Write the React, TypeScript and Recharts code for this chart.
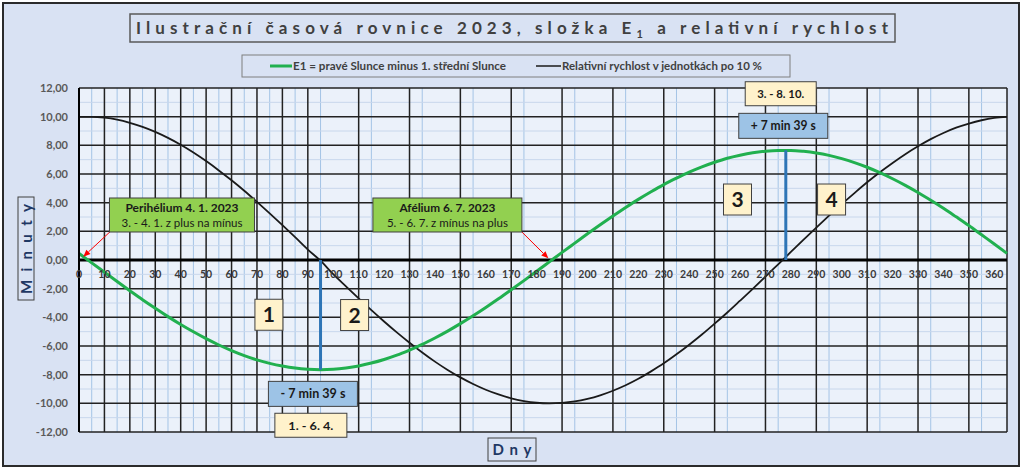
import React from "react";
import {
  LineChart,
  Line,
  XAxis,
  YAxis,
  CartesianGrid,
  ReferenceLine,
  ReferenceDot,
} from "recharts";

// days of the year 2023
const days = [
  0, 5, 10, 15, 20, 25, 30, 35, 40, 45, 50, 55, 60, 65, 70, 75, 80, 85, 90, 95,
  100, 105, 110, 115, 120, 125, 130, 135, 140, 145, 150, 155, 160, 165, 170, 175, 180, 185, 190, 195,
  200, 205, 210, 215, 220, 225, 230, 235, 240, 245, 250, 255, 260, 265, 270, 275, 280, 285, 290, 295,
  300, 305, 310, 315, 320, 325, 330, 335, 340, 345, 350, 355, 360, 365,
];

// E1 = pravé Slunce minus 1. střední Slunce (minuty)
const e1 = [
  0.46, -0.2, -0.85, -1.5, -2.14, -2.77, -3.37, -3.95, -4.5, -5.01, -5.49, -5.93, -6.32, -6.67, -6.97, -7.21, -7.4, -7.54, -7.62, -7.65,
  -7.62, -7.53, -7.39, -7.19, -6.94, -6.64, -6.28, -5.89, -5.44, -4.96, -4.44, -3.89, -3.31, -2.71, -2.08, -1.44, -0.79, -0.13, 0.53, 1.18,
  1.83, 2.46, 3.07, 3.66, 4.23, 4.76, 5.26, 5.71, 6.13, 6.5, 6.82, 7.1, 7.31, 7.48, 7.59, 7.64, 7.64, 7.58, 7.47, 7.3,
  7.07, 6.79, 6.47, 6.09, 5.67, 5.21, 4.71, 4.17, 3.61, 3.01, 2.4, 1.76, 1.12, 0.46,
];

// relativní rychlost v jednotkách po 10 %
const rychlost = [
  9.99, 9.99, 9.93, 9.79, 9.57, 9.29, 8.94, 8.52, 8.04, 7.5, 6.9, 6.25, 5.56, 4.83, 4.05, 3.25, 2.43, 1.59, 0.73, -0.05,
  -0.99, -1.84, -2.68, -3.5, -4.29, -5.05, -5.77, -6.45, -7.09, -7.67, -8.19, -8.65, -9.05, -9.38, -9.65, -9.84, -9.96, -10.0, -9.97, -9.87,
  -9.69, -9.44, -9.12, -8.74, -8.29, -7.77, -7.21, -6.58, -5.91, -5.2, -4.44, -3.66, -2.84, -2.01, -1.16, -0.3, 0.56, 1.42, 2.26, 3.09,
  3.9, 4.67, 5.42, 6.12, 6.77, 7.38, 7.93, 8.43, 8.86, 9.23, 9.52, 9.75, 9.91, 9.99,
];

// extremes of E1 (day, minutes)
const extremeDays = [95, 278];
const extremeValues = [-7.65, 7.65];

const xLabels = [
  0, 10, 20, 30, 40, 50, 60, 70, 80, 90, 100, 110, 120, 130, 140, 150, 160, 170, 180,
  190, 200, 210, 220, 230, 240, 250, 260, 270, 280, 290, 300, 310, 320, 330, 340, 350, 360,
];
const xMajor = [...xLabels, 365];
const xMinor = [
  5, 15, 25, 35, 45, 55, 65, 75, 85, 95, 105, 115, 125, 135, 145, 155, 165, 175, 185,
  195, 205, 215, 225, 235, 245, 255, 265, 275, 285, 295, 305, 315, 325, 335, 345, 355,
];
const yTicks = [-12, -10, -8, -6, -4, -2, 0, 2, 4, 6, 8, 10, 12];
const yMinor = [-11, -9, -7, -5, -3, -1, 1, 3, 5, 7, 9, 11];

const data = days.map((d, i) => ({ day: d, e1: e1[i], rychlost: rychlost[i] }));

const FONT = "Lato, 'Open Sans', sans-serif";
const NAVY = "#1f3864";
const BG = "#d9e2f3";

type Note = {
  day: number;
  value: number;
  w: number;
  h: number;
  fill: string;
  lines: { text: string; bold?: boolean; size: number; len?: number; dy: number }[];
};

const notes: Note[] = [
  {
    day: 40.5, value: 3.14, w: 145, h: 34, fill: "#92d050",
    lines: [
      { text: "Perihélium  4. 1. 2023", bold: true, size: 11.5, len: 113, dy: -3 },
      { text: "3. - 4. 1. z plus na mínus", size: 11.5, len: 121, dy: 12 },
    ],
  },
  {
    day: 144.9, value: 3.14, w: 149, h: 34, fill: "#92d050",
    lines: [
      { text: "Afélium  6. 7. 2023", bold: true, size: 11.5, len: 96, dy: -3 },
      { text: "5. - 6. 7. z mínus na plus", size: 11.5, len: 121, dy: 12 },
    ],
  },
  { day: 74.7, value: -3.82, w: 28, h: 31, fill: "#fff2cc", lines: [{ text: "1", bold: true, size: 21, dy: 7.5 }] },
  { day: 108.4, value: -3.84, w: 28, h: 31, fill: "#fff2cc", lines: [{ text: "2", bold: true, size: 21, dy: 7.5 }] },
  { day: 259.0, value: 4.22, w: 28, h: 31, fill: "#fff2cc", lines: [{ text: "3", bold: true, size: 21, dy: 7.5 }] },
  { day: 296.0, value: 4.22, w: 28, h: 31, fill: "#fff2cc", lines: [{ text: "4", bold: true, size: 21, dy: 7.5 }] },
  { day: 92.0, value: -9.34, w: 89, h: 25, fill: "#9dc3e6", lines: [{ text: "- 7 min 39 s", bold: true, size: 12.5, len: 65, dy: 4.5 }] },
  { day: 91.2, value: -11.53, w: 72, h: 24, fill: "#fff2cc", lines: [{ text: "1. - 6. 4.", bold: true, size: 12, len: 45, dy: 4.5 }] },
  { day: 277.0, value: 9.36, w: 89, h: 25, fill: "#9dc3e6", lines: [{ text: "+ 7 min 39 s", bold: true, size: 12.5, len: 65, dy: 4.5 }] },
  { day: 276.0, value: 11.6, w: 71, h: 24, fill: "#fff2cc", lines: [{ text: "3. - 8. 10.", bold: true, size: 12, len: 47, dy: 4.5 }] },
];

// red arrows: from note corner to the zero crossing
const arrows = [
  [{ x: 12.2, y: 1.97 }, { x: 1.7, y: 0.23 }],
  [{ x: 174.1, y: 1.97 }, { x: 184.6, y: 0.12 }],
];

function noteShape(n: Note) {
  return (p: any) => (
    <g>
      <rect x={p.cx - n.w / 2} y={p.cy - n.h / 2} width={n.w} height={n.h} fill={n.fill} stroke="#404040" strokeWidth={1} />
      {n.lines.map((l, i) => (
        <text
          key={i}
          x={p.cx}
          y={p.cy + l.dy}
          textAnchor="middle"
          fontFamily={FONT}
          fontSize={l.size}
          fontWeight={l.bold ? 700 : 400}
          fill="#1a1a1a"
          {...(l.len ? { textLength: l.len, lengthAdjust: "spacingAndGlyphs" } : {})}
        >
          {l.text}
        </text>
      ))}
    </g>
  );
}

function arrowShape(p: any) {
  const { x1, y1, x2, y2 } = p;
  const a = Math.atan2(y2 - y1, x2 - x1);
  const L = 7;
  const W = 3;
  const bx = x2 - L * Math.cos(a);
  const by = y2 - L * Math.sin(a);
  const pts = `${x2},${y2} ${bx + W * Math.sin(a)},${by - W * Math.cos(a)} ${bx - W * Math.sin(a)},${by + W * Math.cos(a)}`;
  return (
    <g>
      <line x1={x1} y1={y1} x2={bx} y2={by} stroke="#ff0000" strokeWidth={1} />
      <polygon points={pts} fill="#ff0000" />
    </g>
  );
}

function xLabelShape(v: number) {
  return (p: any) => (
    <text x={p.cx} y={p.cy + 18} textAnchor="middle" fontFamily={FONT} fontSize={10.5} fontWeight={700} fill="#3a3a3a">
      {v}
    </text>
  );
}

export default function App() {
  return (
    <div style={{ position: "absolute", left: 0, top: 0, width: 1024, height: 471, fontFamily: FONT }}>
      <div
        style={{
          position: "absolute", left: 2, top: 2, width: 1018, height: 465,
          boxSizing: "border-box", border: "2px solid #2b2b2b", background: BG,
        }}
      />
      <div style={{ position: "absolute", left: 0, top: 0 }}>
        <LineChart width={1024} height={471} data={data} margin={{ top: 88, right: 17, bottom: 39, left: 19 }}>
          <CartesianGrid fill="#ebf1fa" horizontal={false} verticalValues={xMinor} stroke="#a4c4e6" strokeWidth={1} />
          <CartesianGrid vertical={false} horizontalValues={yMinor} stroke="#c8d7ec" strokeWidth={1} />
          <CartesianGrid verticalValues={xMajor} horizontalValues={yTicks} stroke="#222" strokeWidth={1.5} />
          <XAxis type="number" dataKey="day" domain={[0, 365]} hide />
          <YAxis
            type="number"
            domain={[-12, 12]}
            ticks={yTicks}
            interval={0}
            width={60}
            tickLine={false}
            tickMargin={5}
            axisLine={{ stroke: "#000", strokeWidth: 2 }}
            tickFormatter={(v: number) => v.toFixed(2).replace(".", ",")}
            tick={{ fill: "#595959", fontSize: 11, fontWeight: 700, fontFamily: FONT }}
          />
          <ReferenceLine y={0} stroke="#000" strokeWidth={3} />
          {xLabels.map((v) => (
            <ReferenceDot key={`xl${v}`} x={v} y={0} r={1} shape={xLabelShape(v)} />
          ))}
          <Line type="monotone" dataKey="rychlost" stroke="#1a1a1a" strokeWidth={1.8} dot={false} isAnimationActive={false} />
          <Line type="monotone" dataKey="e1" stroke="#21b04f" strokeWidth={3} dot={false} isAnimationActive={false} />
          {extremeDays.map((d, i) => (
            <ReferenceLine
              key={`ex${d}`}
              segment={[{ x: d, y: 0 }, { x: d, y: extremeValues[i] }]}
              stroke="#2e75b6"
              strokeWidth={3}
            />
          ))}
          {arrows.map((s, i) => (
            <ReferenceLine key={`ar${i}`} segment={s} shape={arrowShape} />
          ))}
          {notes.map((n, i) => (
            <ReferenceDot key={`n${i}`} x={n.day} y={n.value} r={1} shape={noteShape(n)} />
          ))}
        </LineChart>
      </div>
      <svg width={1024} height={471} style={{ position: "absolute", left: 0, top: 0, pointerEvents: "none" }}>
        {/* title */}
        <rect x={130} y={14} width={765} height={28} fill="none" stroke="#595959" strokeWidth={1.5} />
        <text x={136} y={34} fontFamily={FONT} fontSize={17} fontWeight={700} fill="#404040" textLength={752} lengthAdjust="spacing">
          Ilustrační časová rovnice 2023, složka E<tspan fontSize={11} dy={4}>1</tspan>
          <tspan dy={-4}> a relativní rychlost</tspan>
        </text>
        {/* legend */}
        <rect x={242} y={55} width={548} height={22} fill="none" stroke="#7f7f7f" strokeWidth={1} />
        <line x1={270} y1={66} x2={292} y2={66} stroke="#21b04f" strokeWidth={3} />
        <text x={293} y={70} fontFamily={FONT} fontSize={11} fontWeight={700} fill="#404040" textLength={213} lengthAdjust="spacingAndGlyphs">
          E1 = pravé Slunce minus 1. střední Slunce
        </text>
        <line x1={536} y1={66} x2={561} y2={66} stroke="#1a1a1a" strokeWidth={1.5} />
        <text x={562} y={70} fontFamily={FONT} fontSize={11} fontWeight={700} fill="#404040" textLength={200} lengthAdjust="spacingAndGlyphs">
          Relativní rychlost v jednotkách po 10 %
        </text>
        {/* axis titles */}
        <rect x={18} y={197} width={16} height={103} fill={BG} stroke="#404040" strokeWidth={1} />
        <text
          x={0}
          y={0}
          transform="translate(31.5,249) rotate(-90)"
          textAnchor="middle"
          fontFamily={FONT}
          fontSize={15}
          fontWeight={700}
          fill={NAVY}
          textLength={90}
          lengthAdjust="spacing"
        >
          Minuty
        </text>
        <rect x={488} y={438} width={48} height={23} fill={BG} stroke="#404040" strokeWidth={1} />
        <text x={512} y={455} textAnchor="middle" fontFamily={FONT} fontSize={15} fontWeight={700} fill={NAVY} textLength={39} lengthAdjust="spacing">
          Dny
        </text>
      </svg>
    </div>
  );
}
